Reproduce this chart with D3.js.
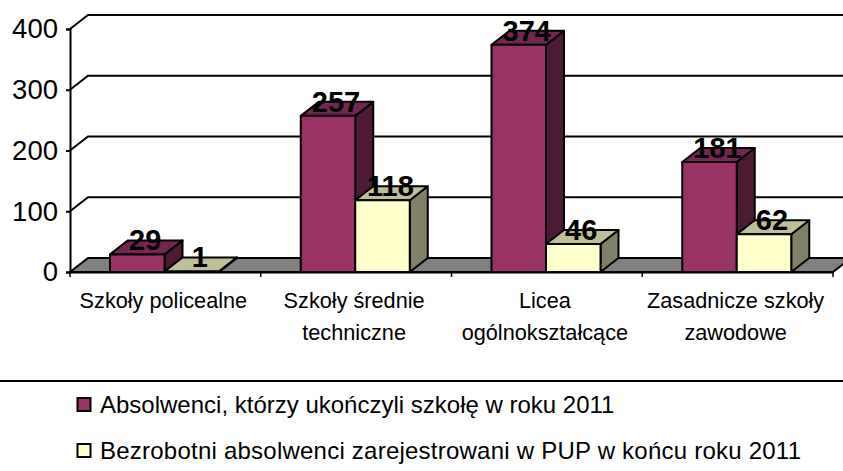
<!DOCTYPE html>
<html>
<head>
<meta charset="utf-8">
<script src="https://cdn.jsdelivr.net/npm/d3@7"></script>
<style>
  html, body { margin: 0; padding: 0; background: #fff; }
  svg { display: block; font-family: "Liberation Sans", Arial, sans-serif; }
</style>
</head>
<body>
<div id="chart"></div>
<script>
// Chart data
const categories = ['Szkoły policealne', 'Szkoły średnie techniczne', 'Licea ogólnokształcące', 'Zasadnicze szkoły zawodowe'];
const categoryLines = [['Szkoły policealne'], ['Szkoły średnie', 'techniczne'], ['Licea', 'ogólnokształcące'], ['Zasadnicze szkoły', 'zawodowe']];
const graduates = [29, 257, 374, 181];
const unemployed = [1, 118, 46, 62];
const seriesNames = ['Absolwenci, którzy ukończyli szkołę w roku 2011', 'Bezrobotni absolwenci zarejestrowani w PUP w końcu roku 2011'];
const yTicks = [0, 100, 200, 300, 400];

const width = 843, height = 471;
const plotLeft = 70, plotRight = 833, plotBottom = 272, plotTop = 29;
const depthX = 18, depthY = 14;

const palettes = [
  { front: '#993366', top: '#732650', side: '#4d1a33' },
  { front: '#ffffcc', top: '#bfbf99', side: '#808066' }
];

const svg = d3.select('#chart').append('svg')
  .attr('width', width)
  .attr('height', height);

const x = d3.scaleBand().domain(categories).range([plotLeft, plotRight]);
const inner = d3.scaleBand().domain([0, 1]).range([40, 149]);
const y = d3.scaleLinear().domain([0, 400]).range([plotBottom, plotTop]);

// Back wall gridlines and their diagonals
const grid = svg.append('g');
yTicks.slice(1).forEach(t => {
  grid.append('path')
    .attr('fill', 'none')
    .attr('stroke', '#000')
    .attr('stroke-width', 2)
    .attr('d', `M${plotLeft},${y(t)}L${plotLeft + depthX},${y(t) - depthY}H${width}`);
});

// Floor
svg.append('path')
  .attr('fill', '#808080')
  .attr('stroke', '#000')
  .attr('stroke-width', 2)
  .attr('d', `M${plotLeft},${plotBottom}L${plotLeft + depthX},${plotBottom - depthY}H${plotRight + depthX}L${plotRight},${plotBottom}Z`);

// Axes
const yAxis = svg.append('g')
  .attr('transform', `translate(${plotLeft},0)`)
  .call(d3.axisLeft(y).tickValues(yTicks).tickSize(4).tickPadding(8));
const xAxis = svg.append('g')
  .attr('transform', `translate(0,${plotBottom})`)
  .call(d3.axisBottom(x).tickSize(0).tickFormat(''));

[yAxis, xAxis].forEach(a => a.selectAll('path, line').attr('stroke', '#000').attr('stroke-width', 2));
yAxis.selectAll('text')
  .attr('fill', '#000')
  .style('font-size', '27.5px')
  .style('font-family', '"Liberation Sans", Arial, sans-serif');

// Category separators on the axis
svg.append('g').selectAll('line')
  .data(categories.concat('end'))
  .enter()
  .append('line')
  .attr('x1', (d, i) => i < categories.length ? x(d) : plotRight)
  .attr('x2', (d, i) => i < categories.length ? x(d) : plotRight)
  .attr('y1', plotBottom)
  .attr('y2', plotBottom + 5)
  .attr('stroke', '#000')
  .attr('stroke-width', 1.5);

// Bars
const seriesValues = [graduates, unemployed];
const bars = svg.append('g').attr('stroke', '#000').attr('stroke-width', 2).attr('stroke-linejoin', 'round');
categories.forEach((c, i) => {
  seriesValues.forEach((values, s) => {
    const x0 = x(c) + inner(s);
    const x1 = x0 + inner.bandwidth();
    const yt = y(values[i]);
    const col = palettes[s];
    bars.append('path')
      .attr('fill', col.side)
      .attr('d', `M${x1},${plotBottom}V${yt}l${depthX},${-depthY}V${plotBottom - depthY}Z`);
    bars.append('path')
      .attr('fill', col.top)
      .attr('d', `M${x0},${yt}H${x1}l${depthX},${-depthY}H${x0 + depthX}Z`);
    bars.append('rect')
      .attr('x', x0)
      .attr('y', yt)
      .attr('width', inner.bandwidth())
      .attr('height', plotBottom - yt)
      .attr('fill', col.front);
  });
});

// Value labels, drawn last so they sit over the bars
const labels = svg.append('g')
  .attr('text-anchor', 'middle')
  .style('font-size', '29px')
  .style('font-weight', 'bold')
  .attr('fill', '#000');
categories.forEach((c, i) => {
  seriesValues.forEach((values, s) => {
    labels.append('text')
      .attr('x', x(c) + inner(s) + inner.bandwidth() / 2 + 8)
      .attr('y', y(values[i]) - 4)
      .text(values[i]);
  });
});

// Category labels
const catText = svg.append('g')
  .attr('text-anchor', 'middle')
  .style('font-size', '21.7px')
  .attr('fill', '#000');
categories.forEach((c, i) => {
  categoryLines[i].forEach((line, j) => {
    catText.append('text')
      .attr('x', x(c) + x.bandwidth() / 2 - 2)
      .attr('y', 308 + j * 32)
      .text(line);
  });
});

// Legend
svg.append('line')
  .attr('x1', 0).attr('x2', width)
  .attr('y1', 381).attr('y2', 381)
  .attr('stroke', '#000')
  .attr('stroke-width', 2);

const legend = svg.append('g').style('font-size', '24px').attr('fill', '#000');
seriesNames.forEach((name, i) => {
  const ly = 405 + i * 46;
  legend.append('rect')
    .attr('x', 77.5).attr('y', ly - 7)
    .attr('width', 13).attr('height', 13)
    .attr('fill', palettes[i].front)
    .attr('stroke', '#000')
    .attr('stroke-width', 2);
  const label = legend.append('text')
    .attr('x', 100)
    .attr('y', ly + 8)
    .text(name);
  // second entry runs a bit wider in the original
  if (i === 1) label.attr('textLength', 701);
});
</script>
</body>
</html>
